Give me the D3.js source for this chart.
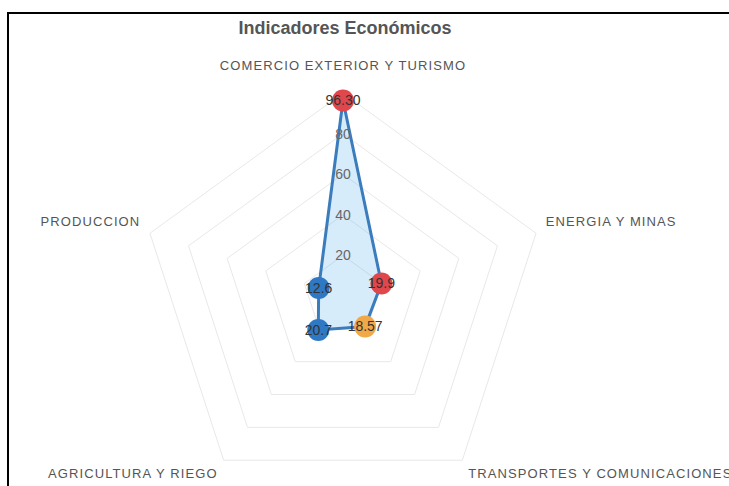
<!DOCTYPE html>
<meta charset="utf-8">
<script src="https://d3js.org/d3.v7.min.js"></script>
<style>
  body { margin: 0; background: #fff; }
  text { font-family: "Liberation Sans", Arial, sans-serif; }
</style>
<div id="chart"></div>
<script>

var categorias = ["COMERCIO EXTERIOR Y TURISMO", "ENERGIA Y MINAS", "TRANSPORTES Y COMUNICACIONES", "AGRICULTURA Y RIEGO", "PRODUCCION"]
var valores = [96.30, 19.9, 18.57, 20.7, 12.6]
var etiquetas = ["96.30", "19.9", "18.57", "20.7", "12.6"]
var coloresPunto = ["#e0474c", "#e0474c", "#f0a848", "#2f78c4", "#2f78c4"]
var ticks = [20, 40, 60, 80, 100]
var tickLabels = ["20", "40", "60", "80"]

var width = 729,
    height = 486,
    cx = 343,
    cy = 296,
    radius = 203

var svg = d3.select("#chart")
  .append("svg")
    .attr("width", width)
    .attr("height", height)

// marco negro
svg.append("rect")
  .attr("x", 8)
  .attr("y", 13)
  .attr("width", width)
  .attr("height", height)
  .attr("fill", "none")
  .attr("stroke", "#000")
  .attr("stroke-width", 2)

svg.append("text")
  .attr("x", cx + 2)
  .attr("y", 34)
  .attr("text-anchor", "middle")
  .style("font-size", "18px")
  .style("font-weight", "bold")
  .style("fill", "#555")
  .text("Indicadores Económicos")

var g = svg.append("g")
  .attr("transform", "translate(" + cx + "," + cy + ")")

var r = d3.scaleLinear().domain([0, 100]).range([0, radius])
var angle = d3.scalePoint().domain(d3.range(categorias.length + 1)).range([0, 2 * Math.PI])

function px(i, v) { return r(v) * Math.sin(angle(i)) }
function py(i, v) { return -r(v) * Math.cos(angle(i)) }

// rejilla
ticks.forEach(function(t) {
  var pts = categorias.map(function(c, i) { return [px(i, t), py(i, t)] })
  g.append("polygon")
    .attr("points", pts.map(function(p) { return p.join(",") }).join(" "))
    .attr("fill", "none")
    .attr("stroke", "#e8e8e8")
    .attr("stroke-width", 1)
})

// area
var linea = d3.lineRadial()
  .angle(function(d, i) { return angle(i) })
  .radius(function(d) { return r(d) })
  .curve(d3.curveLinearClosed)

g.append("path")
  .datum(valores)
  .attr("d", linea)
  .attr("fill", "rgba(54,162,235,0.2)")
  .attr("stroke", "#3b7cbd")
  .attr("stroke-width", 3)

// ticks
g.selectAll(".tick")
  .data(tickLabels)
  .enter()
  .append("text")
    .attr("x", 0)
    .attr("y", function(d) { return -r(+d) })
    .attr("dy", "0.35em")
    .attr("text-anchor", "middle")
    .style("font-size", "14px")
    .style("fill", "#666")
    .text(function(d) { return d })

// etiquetas de categorias
g.selectAll(".cat")
  .data(categorias)
  .enter()
  .append("text")
    .attr("x", function(d, i) { return px(i, 100) * 1.05 })
    .attr("y", function(d, i) {
      var y = py(i, 100) * 1.05
      if (y < -radius) return y - 13
      if (y < 0) return y - 4
      return y + 10
    })
    .attr("text-anchor", function(d, i) {
      var x = px(i, 100)
      return Math.abs(x) < 1 ? "middle" : (x > 0 ? "start" : "end")
    })
    .style("font-size", "13px")
    .style("letter-spacing", "1.1px")
    .style("fill", "#555")
    .text(function(d) { return d })

// puntos
g.selectAll(".punto")
  .data(valores)
  .enter()
  .append("circle")
    .attr("cx", function(d, i) { return px(i, d) })
    .attr("cy", function(d, i) { return py(i, d) })
    .attr("r", 11)
    .attr("fill", function(d, i) { return coloresPunto[i] })

g.selectAll(".valor")
  .data(valores)
  .enter()
  .append("text")
    .attr("x", function(d, i) { return px(i, d) })
    .attr("y", function(d, i) { return py(i, d) })
    .attr("dy", "0.35em")
    .attr("text-anchor", "middle")
    .style("font-size", "14px")
    .style("fill", "#333")
    .text(function(d, i) { return etiquetas[i] })

</script>
